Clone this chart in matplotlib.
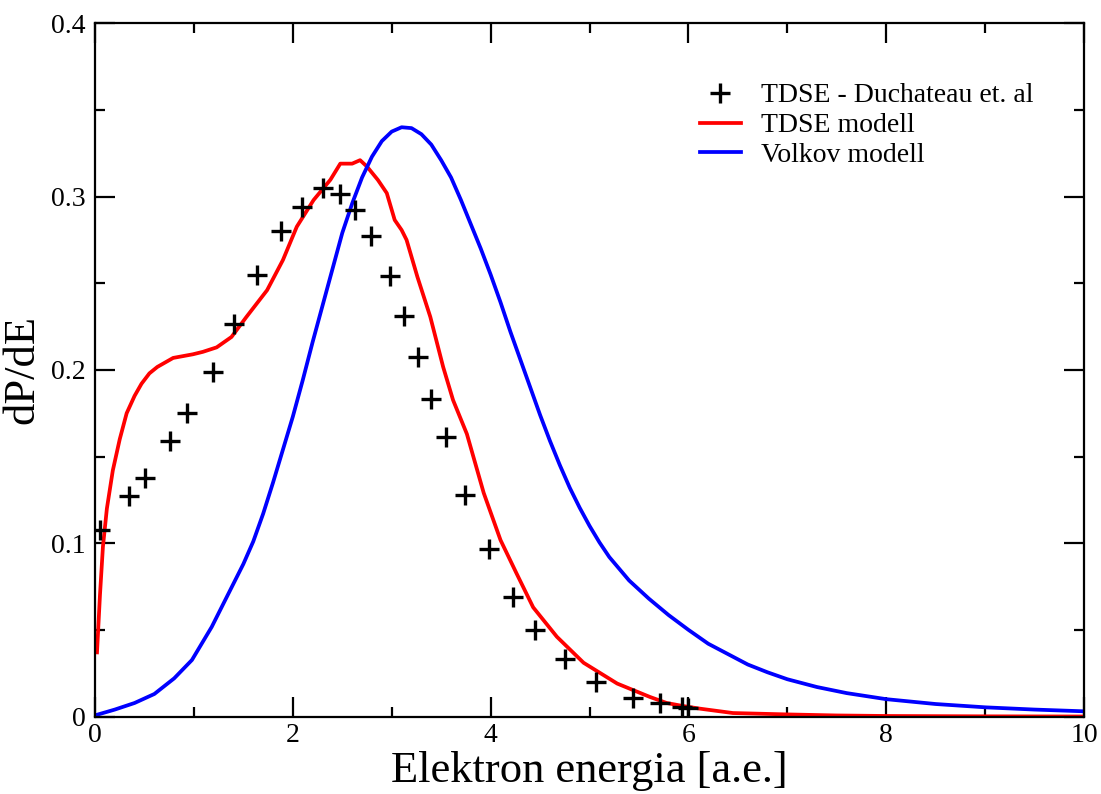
import matplotlib.pyplot as plt
from matplotlib.ticker import MultipleLocator

plt.rcParams['font.family'] = ['Liberation Serif', 'DejaVu Serif']

# TDSE reference points (Duchateau et. al)
duch_x = [0.05, 0.34, 0.51, 0.76, 0.93, 1.19, 1.41, 1.64, 1.88, 2.09, 2.31, 2.48,
          2.63, 2.79, 2.98, 3.12, 3.27, 3.40, 3.55, 3.74, 3.98, 4.23, 4.45, 4.75,
          5.07, 5.44, 5.71, 5.93, 6.00]
duch_y = [0.1076, 0.1274, 0.1374, 0.159, 0.175, 0.199, 0.2263, 0.2548, 0.2801,
          0.2938, 0.3048, 0.3013, 0.2923, 0.2774, 0.2542, 0.2313, 0.2073, 0.183,
          0.1615, 0.1278, 0.0967, 0.0691, 0.0499, 0.033, 0.0201, 0.0109, 0.0076,
          0.0057, 0.0050]

# TDSE model curve
tdse_x = [0.02, 0.05, 0.08, 0.12, 0.18, 0.25, 0.32, 0.40, 0.47, 0.55, 0.63, 0.79,
          0.99, 1.09, 1.23, 1.38, 1.53, 1.74, 1.90, 2.04, 2.21, 2.38, 2.48, 2.60,
          2.68, 2.75, 2.86, 2.95, 3.03, 3.10, 3.15, 3.26, 3.39, 3.52, 3.62, 3.76,
          3.93, 4.10, 4.26, 4.43, 4.67, 4.94, 5.11, 5.28, 5.61, 5.78, 5.95, 6.12,
          6.45, 7.0, 7.5, 8.0, 9.0, 10.0]
tdse_y = [0.037, 0.070, 0.098, 0.120, 0.142, 0.160, 0.175, 0.185, 0.192, 0.198,
          0.2017, 0.2069, 0.209, 0.2104, 0.213, 0.219, 0.2305, 0.246, 0.2634,
          0.2826, 0.298, 0.3097, 0.319, 0.319, 0.321, 0.3173, 0.3096, 0.302,
          0.2865, 0.2807, 0.275, 0.2536, 0.2306, 0.2017, 0.1826, 0.163, 0.129,
          0.1018, 0.0828, 0.063, 0.046, 0.031, 0.025, 0.019, 0.0113, 0.0078,
          0.0060, 0.0045, 0.002, 0.0012, 0.0006, 0.0003, 0.0001, 0.0]

# Volkov model curve
volk_x = [0.02, 0.2, 0.4, 0.6, 0.8, 0.98, 1.18, 1.35, 1.5, 1.6, 1.7, 1.8, 1.9,
          2.0, 2.1, 2.2, 2.3, 2.4, 2.5, 2.6, 2.7, 2.8, 2.9, 3.0, 3.1, 3.2, 3.3,
          3.4, 3.5, 3.6, 3.7, 3.8, 3.9, 4.0, 4.1, 4.2, 4.3, 4.4, 4.5, 4.6, 4.7,
          4.8, 4.9, 5.0, 5.1, 5.2, 5.4, 5.6, 5.8, 6.0, 6.2, 6.4, 6.6, 6.8, 7.0,
          7.3, 7.6, 8.0, 8.5, 9.0, 9.5, 10.0]
volk_y = [0.001, 0.004, 0.0078, 0.013, 0.022, 0.0326, 0.0517, 0.071, 0.088,
          0.101, 0.117, 0.135, 0.154, 0.173, 0.194, 0.216, 0.237, 0.258, 0.279,
          0.296, 0.311, 0.323, 0.332, 0.3375, 0.340, 0.3395, 0.336, 0.330, 0.321,
          0.311, 0.298, 0.284, 0.270, 0.255, 0.239, 0.222, 0.206, 0.190, 0.174,
          0.159, 0.145, 0.132, 0.1205, 0.110, 0.1005, 0.092, 0.0785, 0.068,
          0.0585, 0.050, 0.042, 0.036, 0.030, 0.0255, 0.0215, 0.017, 0.0135,
          0.0100, 0.0072, 0.0053, 0.0040, 0.0030]

fig = plt.figure(figsize=(11.01, 7.94), dpi=100)
ax = fig.add_axes([0.0863, 0.0976, 0.8983, 0.8731])

ax.plot(duch_x, duch_y, linestyle='none', marker='+', color='black',
        markersize=14, markeredgewidth=2.4, label='TDSE - Duchateau et. al', zorder=3)
ax.plot(tdse_x, tdse_y, color='red', linewidth=2.7, label='TDSE modell')
ax.plot(volk_x, volk_y, color='blue', linewidth=2.7, label='Volkov modell')

ax.set_xlim(0, 10)
ax.set_ylim(0, 0.4)
ax.xaxis.set_major_locator(MultipleLocator(2))
ax.xaxis.set_minor_locator(MultipleLocator(1))
ax.yaxis.set_major_locator(MultipleLocator(0.1))
ax.yaxis.set_minor_locator(MultipleLocator(0.05))
ax.yaxis.set_major_formatter(plt.FuncFormatter(lambda v, p: '0' if v == 0 else f'{v:.1f}'))

ax.tick_params(which='both', direction='in', top=True, right=True, width=1.6,
               labelsize=20, colors='black')
ax.tick_params(which='major', length=14.5)
ax.tick_params(which='minor', length=7.5)
ax.tick_params(axis='y', pad=7)
ax.tick_params(axis='x', pad=5)
for sp in ax.spines.values():
    sp.set_linewidth(1.6)

ax.set_xlabel('Elektron energia [a.e.]', fontsize=32, labelpad=2)
ax.set_ylabel('dP/dE', fontsize=32, labelpad=6)

ax.legend(loc='upper left', bbox_to_anchor=(0.6, 0.93), frameon=False,
          fontsize=20, handlelength=1.5, handletextpad=0.7, labelspacing=0.16,
          borderaxespad=0)

fig.savefig('out.png', dpi=100)
